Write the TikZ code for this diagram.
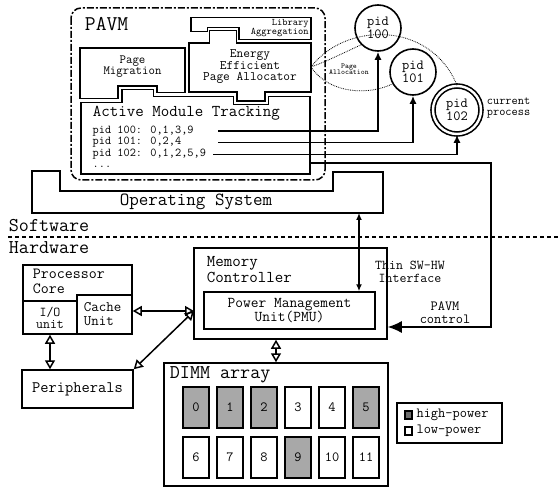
\documentclass[tikz,border=0pt]{standalone}
\usepackage{fontspec}
\usepackage{tikz}
\usetikzlibrary{arrows.meta, positioning}
\definecolor{hipow}{RGB}{168,168,168}
\definecolor{legdark}{RGB}{110,110,110}
\newcommand\fsz[2]{\fontsize{#1pt}{#2pt}\selectfont\ttfamily}
\tikzset{
  piece/.style={line width=1.5pt},
  pavm/.style={line width=1.5pt, rounded corners=10pt, dash pattern=on 7pt off 2pt on 2pt off 2pt},
  box/.style={draw, line width=1.5pt, inner sep=0pt},
  txt/.style={inner sep=0.75pt, align=center},
  rowtxt/.style={inner sep=0.5pt, anchor=west, font=\fsz{12}{12}},
  oarr/.style={line width=1.5pt, {Triangle[open,length=9pt,width=10pt]}-{Triangle[open,length=9pt,width=10pt]}},
  sarr/.style={line width=1.5pt, {Latex[length=7pt,width=6pt]}-{Latex[length=7pt,width=6pt]}},
  parr/.style={line width=1.5pt, -{Latex[length=8pt,width=7pt]}},
  pidc/.style={circle, draw, line width=1.6pt, minimum size=46pt, inner sep=0pt, align=center, font=\fsz{14}{12.5}},
  cell/.style={draw, line width=1.5pt, minimum width=26pt, minimum height=41pt, inner sep=0pt, font=\fsz{14}{14}},
  dotc/.style={densely dotted, line width=0.8pt},
}

\begin{document}
\begin{tikzpicture}[x=1pt,y=1pt,yscale=-1,xscale=1]
\useasboundingbox (0,0) rectangle (558,487);

%Shape: PAVM frame
\draw [pavm] (71,8) rectangle (325,180);
%Shape: Library Aggregation
\draw [piece] (191,17.5) -- (311,17.5) -- (311,39.3) -- (239,39.3) -- (239,27.3) -- (207.7,27.3) -- (207.7,31.7) -- (191,31.7) -- cycle;
%Shape: Energy Efficient Page Allocator
\draw [piece] (189,43) -- (209.5,43) -- (209.5,30.5) -- (236.5,30.5) -- (236.5,43) -- (311,43) -- (311,92) -- (265,92) -- (265,101) -- (237,101) -- (237,92) -- (189,92) -- cycle;
%Shape: Page Migration
\draw [piece] (80,48) -- (185,48) -- (185,92.7) -- (157,92.7) -- (157,86) -- (118,86) -- (118,98.3) -- (80,98.3) -- cycle;
%Shape: Active Module Tracking
\draw [piece] (81,102.7) -- (122,102.7) -- (122,89.5) -- (153.5,89.5) -- (153.5,96.5) -- (233.5,96.5) -- (233.5,104.5) -- (268.5,104.5) -- (268.5,96.5) -- (310,96.5) -- (310,174) -- (81,174) -- cycle;
%Shape: Operating System
\draw [piece] (32,171) -- (60,171) -- (60,191) -- (333,191) -- (333,172) -- (383,172) -- (383,213) -- (32,213) -- cycle;

% Text Node
\draw (84,24) node (pavmlbl) [txt, anchor=west, font=\fsz{21}{21}] {PAVM};
% Text Node
\draw (309.5,28.5) node (libagg) [txt, anchor=east, align=right, font=\fsz{10}{9}] {Library\\Aggregation};
% Text Node
\draw (250,67) node (eepa) [txt, font=\fsz{13}{11.5}] {Energy\\Efficient\\Page Allocator};
% Text Node
\draw (132.5,67) node (pgmig) [txt, font=\fsz{12.5}{11}] {Page\\Migration};
% Text Node
\draw (92,113) node (amt) [txt, anchor=west, font=\fsz{16.5}{16}] {Active Module Tracking};
% Text Node
\draw (92,131) node (rowA) [rowtxt] {pid 100: 0,1,3,9};
\draw (92,142.5) node (rowB) [rowtxt] {pid 101: 0,2,4};
\draw (92,154) node (rowC) [rowtxt] {pid 102: 0,1,2,5,9};
\draw (92,166.5) node (rowD) [rowtxt] {...};
% Text Node
\draw (196,202) node (oslbl) [txt, font=\fsz{18.5}{18}] {Operating System};

% pid circles
\node [pidc] (pidA) at (378,28) {pid\\100};
\node [pidc] (pidB) at (413,72) {pid\\101};
\node [pidc, double, double distance=2.4pt, minimum size=48pt] (pidC) at (457,110) {pid\\102};
\draw (486,108.5) node (curproc) [txt, anchor=west, align=left, font=\fsz{12}{11}] {current\\process};
\draw (349,69) node (pgalloc) [txt, font=\fsz{7.5}{6.5}] {Page\\Allocation};

% page allocation curves
\coordinate (eeout) at (311,67);
\draw [dotc] (eeout) .. controls (345,22) and (430,20) .. (pidC.north);
\draw [dotc] (eeout) .. controls (330,60) and (345,52) .. (pidA.225);
\draw [dotc] (eeout) .. controls (330,95) and (370,95) .. (pidB.210);

% tracking lines
\coordinate (tA) at (218,131);
\coordinate (tB) at (218,142.5);
\coordinate (tC) at (213,154.5);
\coordinate (amr) at (310,163);
\draw [parr] (tA) -| (pidA.south);
\draw [parr] (tB) -| (pidB.south);
\draw [parr] (tC) -| (pidC.south);

% Software / Hardware
\draw (8,226) node (swlbl) [txt, anchor=west, font=\fsz{19.5}{19}] {Software};
\draw (8,248) node (hwlbl) [txt, anchor=west, font=\fsz{19.5}{19}] {Hardware};
\draw [line width=1.5pt, dash pattern=on 4pt off 3pt] (8,237) -- (558,237);

% Memory controller
\node [box, minimum width=193pt, minimum height=91pt] (mc) at (290.5,293.5) {};
\draw (206,269.5) node (mclbl) [txt, anchor=west, align=left, font=\fsz{16.5}{15.2}] {Memory\\Controller};
\node [box, minimum width=171pt, minimum height=37pt, txt, font=\fsz{15}{13}] (pmu) at (289.5,310.5) {Power Management\\Unit(PMU)};
\draw (410,271.5) node (thin) [txt, font=\fsz{13.5}{13}] {Thin SW-HW\\Interface};
\draw (445,313) node (ctllbl) [txt, font=\fsz{14}{13}] {PAVM\\control};

% interface arrows
\coordinate (swhw) at (359,213);
\draw [sarr] (swhw) -- (swhw |- pmu.north);
\coordinate (ctl) at (491,327);
\draw [line width=1.5pt, -{Latex[length=14pt,width=12pt]}] (amr) -| (ctl) -- (ctl -| mc.east);

% Processor core
\node [box, minimum width=109pt, minimum height=69pt] (core) at (77.5,299.5) {};
\draw (32,281.5) node (corelbl) [txt, anchor=west, align=left, font=\fsz{15.5}{14.5}] {Processor\\Core};
\node [box, minimum width=54pt, minimum height=33pt, txt, font=\fsz{13.5}{12}] (io) at (50,317.5) {I/O\\unit};
\node [box, minimum width=55pt, minimum height=39pt] (cache) at (104.5,314.5) {};
\draw (83,314) node (cachelbl) [txt, anchor=west, align=left, font=\fsz{14.5}{14.2}] {Cache\\Unit};
\node [box, minimum width=111pt, minimum height=38pt, txt, font=\fsz{16}{16}] (periph) at (77.5,389) {Peripherals};

% hardware arrows
\coordinate (mcin) at (194,311);
\draw [oarr] (cache.east |- mcin) -- (mcin);
\draw [oarr] (periph.north east) -- (mcin);
\draw [oarr] (io.south) -- (io.south |- periph.north);

% DIMM array
\node [box, minimum width=224pt, minimum height=123pt] (dimm) at (276,424.5) {};
\draw (169,375) node (dimmlbl) [txt, anchor=west, font=\fsz{19.5}{19}] {DIMM array};
\draw [oarr] (dimm.north) -- (dimm.north |- mc.south);
\foreach \k/\f in {0/hipow,1/hipow,2/hipow,3/white,4/white,5/hipow,6/white,7/white,8/white,9/hipow,10/white,11/white}
  \node [cell, fill=\f] (m\k) at ({196+34*mod(\k,6)},{407.5+50*int(\k/6)}) {\k};

% Legend
\node [box, minimum width=105pt, minimum height=40pt] (legend) at (449.5,423) {};
\node [draw, line width=1.2pt, fill=legdark, minimum width=7pt, minimum height=8pt, inner sep=0pt] (sqH) at (408.5,415) {};
\node [draw, line width=1.2pt, fill=white, minimum width=7pt, minimum height=8pt, inner sep=0pt] (sqL) at (408.5,431) {};
\node [txt, anchor=west, font=\fsz{14}{14}, right=3pt of sqH] (hplbl) {high-power};
\node [txt, anchor=west, font=\fsz{14}{14}, right=3pt of sqL] (lplbl) {low-power};

\end{tikzpicture}
\end{document}
